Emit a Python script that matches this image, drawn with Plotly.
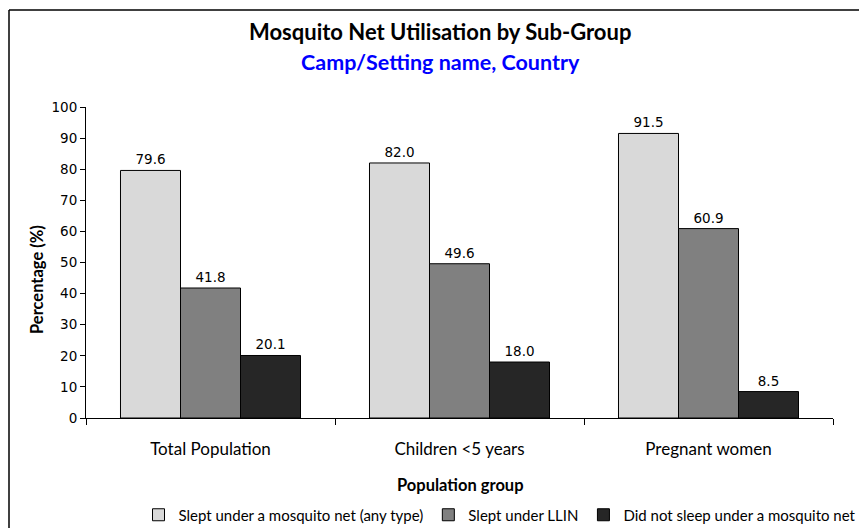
import plotly.graph_objects as go

categories = ["Total Population", "Children <5 years", "Pregnant women"]
series_names = ["Slept under a mosquito net (any type)", "Slept under LLIN", "Did not sleep under a mosquito net"]
any_net = [79.6, 82.0, 91.5]
llin = [41.8, 49.6, 60.9]
no_net = [20.1, 18.0, 8.5]
colors = ["#D9D9D9", "#808080", "#262626"]
y_ticks = list(range(0, 101, 10))

# page body has an 8px margin; figure coordinates = screen - 8
W, H = 859, 520
L, R, T, B = 78, 34, 99, 110
PW, PH = W - L - R, H - T - B


def px(x):
    return (x - L) / PW


def py(y):
    return 1 - (y - T) / PH


fig = go.Figure()
for name, vals, col in zip(series_names, [any_net, llin, no_net], colors):
    fig.add_trace(go.Bar(
        x=categories, y=vals, name=name,
        marker=dict(color=col, line=dict(color="#000000", width=1)),
        text=[f"{v:.1f}" for v in vals], textposition="outside",
        textfont=dict(family="DejaVu Sans", size=13.5, color="#000000"),
        cliponaxis=False,
    ))

fig.update_layout(
    width=W, height=H,
    margin=dict(l=L, r=R, t=T, b=B, pad=0, autoexpand=False),
    paper_bgcolor="white", plot_bgcolor="white",
    barmode="group", bargap=0.277, bargroupgap=0,
    showlegend=True,
    legend=dict(orientation="h", xref="container", yref="container",
                x=492 / W, xanchor="center", y=1 - 507 / H, yanchor="middle",
                font=dict(family="Lato", size=15, color="#000000"),
                itemwidth=30, tracegroupgap=0, traceorder="normal"),
    xaxis=dict(type="category", showline=True, linecolor="#000000", linewidth=1,
               ticks="outside", tickson="boundaries", ticklen=6, tickcolor="#000000",
               tickfont=dict(family="Lato", size=17, color="#000000"),
               ticklabelstandoff=16, showgrid=False),
    yaxis=dict(range=[0, 100], tickvals=y_ticks, showline=True, linecolor="#000000", linewidth=1,
               ticks="outside", ticklen=5, tickcolor="#000000",
               tickfont=dict(family="DejaVu Sans", size=13.5, color="#000000"),
               showgrid=False, zeroline=False),
    annotations=[
        dict(text="<b>Mosquito Net Utilisation by Sub-Group</b>", xref="paper", yref="paper",
             x=px(432), y=py(24), xanchor="center", yanchor="middle",
             showarrow=False, font=dict(family="Lato", size=22, color="#000000")),
        dict(text="<b>Camp/Setting name, Country</b>", xref="paper", yref="paper",
             x=px(432), y=py(54), xanchor="center", yanchor="middle",
             showarrow=False, font=dict(family="Lato", size=21.5, color="#0000FF")),
        dict(text="<b>Percentage (%)</b>", xref="paper", yref="paper",
             x=px(29), y=py(272), xanchor="center", yanchor="middle", textangle=-90,
             showarrow=False, font=dict(family="Lato", size=16.5, color="#000000")),
        dict(text="<b>Population group</b>", xref="paper", yref="paper",
             x=px(452), y=py(477), xanchor="center", yanchor="middle",
             showarrow=False, font=dict(family="Lato", size=16.5, color="#000000")),
    ],
    shapes=[
        dict(type="line", xref="paper", yref="paper",
             x0=px(1), x1=px(W + 5), y0=py(2), y1=py(2),
             line=dict(color="#000000", width=1.5)),
        dict(type="line", xref="paper", yref="paper",
             x0=px(1), x1=px(1), y0=py(2), y1=py(H + 5),
             line=dict(color="#000000", width=1.5)),
    ],
)

fig.write_html("out.html")
